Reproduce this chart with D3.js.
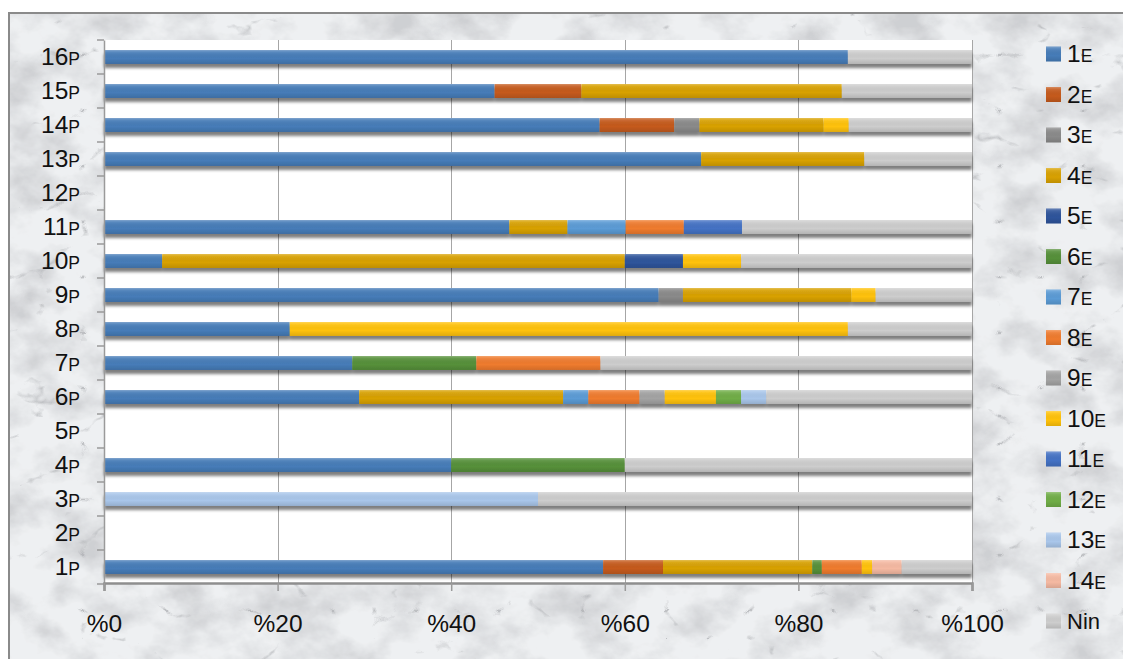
<!DOCTYPE html>
<html>
<head>
<meta charset="utf-8">
<script src="https://cdn.jsdelivr.net/npm/d3@7"></script>
<style>
  html, body { margin: 0; padding: 0; background: #ffffff; }
  svg { display: block; }
  text { font-family: "Liberation Sans", Arial, sans-serif; fill: #111; }
</style>
</head>
<body>
<svg id="chart" width="1123" height="659"></svg>
<script>
// Categories, bottom (1P) to top (16P)
const categories = ["1P","2P","3P","4P","5P","6P","7P","8P","9P","10P","11P","12P","13P","14P","15P","16P"];

// Share (%) of each series per category, in category order above
const s1E  = [57.5, 0, 0, 40, 0, 29.4, 28.6, 21.4, 63.9, 6.7, 46.7, 0, 68.8, 57.1, 45, 85.7];
const s2E  = [6.9, 0, 0, 0, 0, 0, 0, 0, 0, 0, 0, 0, 0, 8.6, 10, 0];
const s3E  = [0, 0, 0, 0, 0, 0, 0, 0, 2.8, 0, 0, 0, 0, 2.9, 0, 0];
const s4E  = [17.2, 0, 0, 0, 0, 23.5, 0, 0, 19.4, 53.3, 6.7, 0, 18.8, 14.3, 30, 0];
const s5E  = [0, 0, 0, 0, 0, 0, 0, 0, 0, 6.7, 0, 0, 0, 0, 0, 0];
const s6E  = [1.1, 0, 0, 20, 0, 0, 14.3, 0, 0, 0, 0, 0, 0, 0, 0, 0];
const s7E  = [0, 0, 0, 0, 0, 2.9, 0, 0, 0, 0, 6.7, 0, 0, 0, 0, 0];
const s8E  = [4.6, 0, 0, 0, 0, 5.9, 14.3, 0, 0, 0, 6.7, 0, 0, 0, 0, 0];
const s9E  = [0, 0, 0, 0, 0, 2.9, 0, 0, 0, 0, 0, 0, 0, 0, 0, 0];
const s10E = [1.2, 0, 0, 0, 0, 5.9, 0, 64.3, 2.8, 6.7, 0, 0, 0, 2.9, 0, 0];
const s11E = [0, 0, 0, 0, 0, 0, 0, 0, 0, 0, 6.7, 0, 0, 0, 0, 0];
const s12E = [0, 0, 0, 0, 0, 2.9, 0, 0, 0, 0, 0, 0, 0, 0, 0, 0];
const s13E = [0, 0, 50, 0, 0, 2.9, 0, 0, 0, 0, 0, 0, 0, 0, 0, 0];
const s14E = [3.4, 0, 0, 0, 0, 0, 0, 0, 0, 0, 0, 0, 0, 0, 0, 0];
const sNin = [8.1, 0, 50, 40, 0, 23.7, 42.8, 14.3, 11.1, 26.6, 26.5, 0, 12.4, 14.2, 15, 14.3];

const seriesNames = ["1E","2E","3E","4E","5E","6E","7E","8E","9E","10E","11E","12E","13E","14E","Nin"];
const seriesValues = [s1E, s2E, s3E, s4E, s5E, s6E, s7E, s8E, s9E, s10E, s11E, s12E, s13E, s14E, sNin];
const seriesColors = ["#467cb8","#c55a1c","#8a8a8a","#d8a102","#2e549b","#56903a","#5b9bd5",
                      "#ef7b2e","#a3a3a3","#ffc20a","#4472c4","#70ad47","#a9c6ea","#f5b9a2","#cdcdcd"];

const xTicks = [0, 20, 40, 60, 80, 100];
const xTickLabels = ["%0","%20","%40","%60","%80","%100"];

// Table for d3.stack: one row per category
const table = categories.map((c, i) => {
  const row = { category: c };
  seriesNames.forEach((s, k) => { row[s] = seriesValues[k][i]; });
  return row;
});

const svg = d3.select("#chart");
const defs = svg.append("defs");

// Marble backdrop texture: soft grey clouds plus thin dark veins
const marble = defs.append("filter").attr("id", "marble")
  .attr("x", 0).attr("y", 0).attr("width", "100%").attr("height", "100%");
marble.append("feTurbulence").attr("type", "fractalNoise")
  .attr("baseFrequency", "0.018 0.024").attr("numOctaves", 5).attr("seed", 7).attr("result", "n1");
marble.append("feColorMatrix").attr("in", "n1").attr("type", "matrix")
  .attr("values", "0 0 0 0 0.62  0 0 0 0 0.63  0 0 0 0 0.65  2.6 0 0 0 -1.05").attr("result", "mottle");
marble.append("feTurbulence").attr("type", "turbulence")
  .attr("baseFrequency", "0.012 0.018").attr("numOctaves", 4).attr("seed", 11).attr("result", "n2");
marble.append("feColorMatrix").attr("in", "n2").attr("type", "matrix")
  .attr("values", "0 0 0 0 0.42  0 0 0 0 0.43  0 0 0 0 0.45  -7 0 0 0 0.75").attr("result", "veins");
marble.append("feGaussianBlur").attr("in", "veins").attr("stdDeviation", 0.7).attr("result", "veinsSoft");
marble.append("feFlood").attr("flood-color", "#eef0f2").attr("result", "base");
const mm = marble.append("feMerge");
mm.append("feMergeNode").attr("in", "base");
mm.append("feMergeNode").attr("in", "mottle");
mm.append("feMergeNode").attr("in", "veinsSoft");

// Soft shadow under each bar
const shadow = defs.append("filter").attr("id", "barShadow")
  .attr("x", "-2%").attr("y", "-40%").attr("width", "104%").attr("height", "200%");
shadow.append("feDropShadow").attr("dx", 0).attr("dy", 4).attr("stdDeviation", 1.8)
  .attr("flood-color", "#000").attr("flood-opacity", 0.5);

// Sheen on bars: light top edge, slightly darker bottom
const sheen = defs.append("linearGradient").attr("id", "sheen")
  .attr("x1", 0).attr("y1", 0).attr("x2", 0).attr("y2", 1);
sheen.append("stop").attr("offset", "0%").attr("stop-color", "#fff").attr("stop-opacity", 0.3);
sheen.append("stop").attr("offset", "15%").attr("stop-color", "#fff").attr("stop-opacity", 0.1);
sheen.append("stop").attr("offset", "60%").attr("stop-color", "#000").attr("stop-opacity", 0);
sheen.append("stop").attr("offset", "100%").attr("stop-color", "#000").attr("stop-opacity", 0.12);

// Frame with marble fill
svg.append("rect").attr("x", 9).attr("y", 13).attr("width", 1130).attr("height", 660)
  .attr("filter", "url(#marble)");
svg.append("rect").attr("x", 9).attr("y", 13).attr("width", 1130).attr("height", 660)
  .attr("fill", "none").attr("stroke", "#8a8a8a").attr("stroke-width", 2);

// Scales
const plot = { left: 104, right: 972, top: 40, bottom: 584 };
const x = d3.scaleLinear().domain([0, 100]).range([plot.left, plot.right]);
const y = d3.scaleBand().domain(categories.slice().reverse())
  .range([plot.top, plot.bottom]).paddingInner(0.59).paddingOuter(0.295);

// Plot area
svg.append("rect").attr("x", plot.left).attr("y", plot.top)
  .attr("width", plot.right - plot.left).attr("height", plot.bottom - plot.top)
  .attr("fill", "#ffffff");

// Vertical gridlines
svg.append("g").selectAll("line").data(xTicks.slice(1)).join("line")
  .attr("x1", d => Math.round(x(d)) + 0.5).attr("x2", d => Math.round(x(d)) + 0.5)
  .attr("y1", plot.top).attr("y2", plot.bottom)
  .attr("stroke", "#a6a6a6").attr("stroke-width", 1);

// Stacked bars
const stacked = d3.stack().keys(seriesNames)(table);
const rowG = svg.append("g").selectAll("g.row").data(categories).join("g")
  .attr("class", "row").attr("filter", "url(#barShadow)");

rowG.each(function(cat) {
  const g = d3.select(this);
  const i = categories.indexOf(cat);
  const segs = stacked.map((layer, k) => ({ k, x0: layer[i][0], x1: layer[i][1] }))
    .filter(s => s.x1 - s.x0 > 0);
  if (!segs.length) return;
  g.selectAll("rect.seg").data(segs).join("rect").attr("class", "seg")
    .attr("x", s => x(s.x0)).attr("width", s => x(s.x1) - x(s.x0))
    .attr("y", y(cat)).attr("height", y.bandwidth())
    .attr("fill", s => seriesColors[s.k]);
  const total = d3.max(segs, s => s.x1);
  g.append("rect").attr("x", x(0)).attr("width", x(total) - x(0))
    .attr("y", y(cat)).attr("height", y.bandwidth())
    .attr("fill", "url(#sheen)");
});

// Left axis line with category ticks
const yAxis = d3.axisLeft(y).tickSize(0).tickFormat("");
svg.append("g").attr("transform", `translate(${plot.left},0)`).call(yAxis)
  .call(g => g.select(".domain").attr("stroke", "#9a9a9a").attr("stroke-width", 1.5));
const bounds = d3.range(categories.length + 1).map(i => plot.top + i * y.step());
svg.append("g").selectAll("line").data(bounds).join("line")
  .attr("x1", plot.left - 7).attr("x2", plot.left)
  .attr("y1", d => d).attr("y2", d => d)
  .attr("stroke", "#9a9a9a").attr("stroke-width", 1.5);

// Category labels: number larger, suffix letter smaller
const catLabels = svg.append("g").selectAll("text").data(categories).join("text")
  .attr("x", 80).attr("y", d => y(d) + y.bandwidth() / 2 + 8)
  .attr("text-anchor", "end");
catLabels.append("tspan").attr("font-size", 24.5).text(d => d.slice(0, -1));
catLabels.append("tspan").attr("font-size", 17.5).text(d => d.slice(-1));

// Bottom axis
const xAxis = d3.axisBottom(x).tickValues(xTicks)
  .tickFormat((d, i) => xTickLabels[i]).tickSize(8);
const xg = svg.append("g").attr("transform", `translate(0,${plot.bottom - 1})`).call(xAxis);
xg.select(".domain").attr("stroke", "#8e8e8e").attr("stroke-width", 2.5);
xg.selectAll(".tick line").attr("stroke", "#9a9a9a").attr("stroke-width", 1.5);
xg.selectAll(".tick text").attr("y", 49).attr("dy", 0)
  .attr("font-size", 24.5).attr("font-family", "Liberation Sans, Arial, sans-serif")
  .attr("fill", "#111");

// Legend
const legend = svg.append("g").selectAll("g").data(seriesNames).join("g")
  .attr("transform", (d, i) => `translate(1046,${54 + i * 40.5})`);
legend.append("rect").attr("x", 0).attr("y", -7.5).attr("width", 15).attr("height", 15)
  .attr("fill", (d, i) => seriesColors[i]);
legend.append("rect").attr("x", 0).attr("y", -7.5).attr("width", 15).attr("height", 15)
  .attr("fill", "url(#sheen)");
const legText = legend.append("text").attr("x", 21).attr("y", 8);
legText.each(function(d) {
  const t = d3.select(this);
  const m = d.match(/^(\d+)(\D+)$/);
  if (m) {
    t.append("tspan").attr("font-size", 24.5).text(m[1]);
    t.append("tspan").attr("font-size", 17.5).text(m[2]);
  } else {
    t.append("tspan").attr("font-size", 22).text(d);
  }
});
</script>
</body>
</html>
